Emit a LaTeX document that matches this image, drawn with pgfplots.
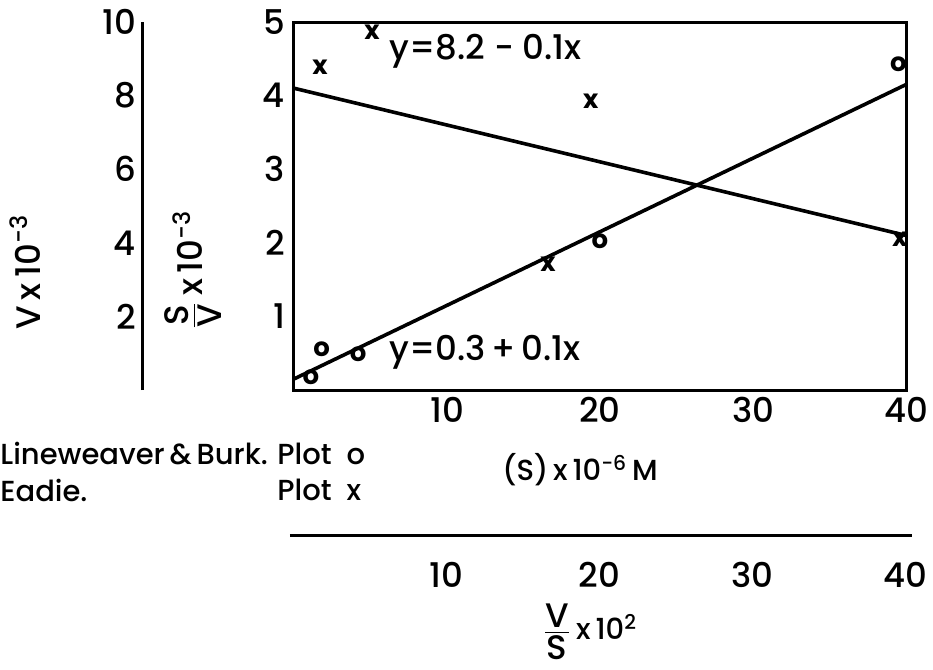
\documentclass[border=0pt]{standalone}
\usepackage{fontspec}
\setmainfont{Poppins}[UprightFont=* Medium, BoldFont=* Bold]
\usepackage{pgfplots}
\pgfplotsset{compat=1.18}

% Lineweaver-Burk data: (S) x 10^-6 M  vs  S/V x 10^-3
\pgfplotstableread{
x    y
1.1  0.18
1.8  0.55
4.2  0.49
20.0 2.02
39.5 4.42
}\lbdata
% Eadie data: V/S x 10^2  vs  V x 10^-3
\pgfplotstableread{
x    y
1.7  8.78
5.1  9.72
19.4 7.86
16.6 3.42
39.6 4.10
}\eadiedata

\newcommand{\tickfont}{\fontsize{17}{17}\selectfont}
\newcommand{\labfont}{\fontsize{14.5}{14.5}\selectfont}
\newcommand{\ttlfont}{\fontsize{17}{17}\selectfont}
% stacked quotient used in the axis titles
\newcommand{\quot}[2]{$\frac{\mbox{\ttlfont #1}\rule[-2pt]{0pt}{2pt}}{\mbox{\ttlfont #2}\rule{0pt}{13pt}}$}

\begin{document}
\begin{tikzpicture}
\useasboundingbox (-147pt,-140pt) rectangle (319.5pt,195pt);

% main frame: S/V against (S)
\begin{axis}[
  at={(0pt,0pt)}, anchor=south west,
  scale only axis, width=306pt, height=184pt,
  xmin=0, xmax=40, ymin=0, ymax=5,
  xtick={10,20,30,40}, ytick={1,2,3,4,5},
  major tick length=0pt,
  axis line style={line width=1.5pt},
  tick label style={font=\tickfont},
  y tick label style={xshift=-1pt},
  /pgf/number format/assume math mode=true,
  clip=false,
]
\addplot[line width=1.8pt] coordinates {(0,0.15) (40,4.15)};
\addplot[only marks, mark=text, text mark={o}, text mark as node=true,
  text mark style={font=\bfseries\fontsize{13}{13}\selectfont, inner sep=0pt}]
  table[x=x,y=y] {\lbdata};
\node[anchor=west, font=\tickfont] at (axis cs:5.8,4.6) {y=8.2 - 0.1x};
\node[anchor=west, font=\tickfont] at (axis cs:5.8,0.52) {y=0.3\,+\,0.1x};
\end{axis}

% Eadie plot drawn in the same frame: V against V/S
\begin{axis}[
  at={(0pt,0pt)}, anchor=south west,
  scale only axis, width=306pt, height=184pt,
  xmin=0, xmax=40, ymin=0, ymax=10,
  hide axis, clip=false,
]
\addplot[line width=1.8pt] coordinates {(0,8.2) (40,4.2)};
\addplot[only marks, mark=text, text mark={x}, text mark as node=true,
  text mark style={font=\bfseries\fontsize{13}{13}\selectfont, inner sep=0pt}]
  table[x=x,y=y] {\eadiedata};
\end{axis}

% separate V scale on the left
\begin{axis}[
  at={(-75.5pt,0pt)}, anchor=south west,
  scale only axis, width=10pt, height=184pt,
  xmin=0, xmax=1, ymin=0, ymax=10,
  axis x line=none, axis y line=left,
  axis line style={-, line width=1.5pt},
  ytick={2,4,6,8,10}, major tick length=0pt,
  tick label style={font=\tickfont},
  /pgf/number format/assume math mode=true,
]
\end{axis}

% separate V/S scale below
\begin{axis}[
  at={(-2pt,-72.5pt)}, anchor=south west,
  scale only axis, width=311pt, height=10pt,
  xmin=-0.26, xmax=40.45, ymin=0, ymax=1,
  axis y line=none, axis x line=bottom,
  axis line style={-, line width=1.5pt},
  xtick={10,20,30,40}, major tick length=0pt,
  x tick label style={font=\tickfont, yshift=-10pt},
  /pgf/number format/assume math mode=true,
]
\end{axis}

% axis titles
\node[rotate=90, font=\ttlfont] at (-134.5pt,59pt) {V\,x\,10\textsuperscript{-3}};
\node[rotate=90, font=\ttlfont] at (-50.5pt,60pt) {\quot{S}{V}\,x\,10\textsuperscript{-3}};
\node[font=\labfont] at (143pt,-40pt) {(S)\,x\,10\textsuperscript{-6}\,M};
\node[font=\labfont] at (148pt,-121pt) {\quot{V}{S}\,x\,10\textsuperscript{2}};

% key
\node[anchor=west, font=\labfont, inner sep=0pt] at (-147pt,-32pt) {Lineweaver\,\&\,Burk.};
\node[anchor=west, font=\labfont, inner sep=0pt] at (-8.5pt,-32pt) {Plot\ \ o};
\node[anchor=west, font=\labfont, inner sep=0pt] at (-147pt,-50pt) {Eadie.};
\node[anchor=west, font=\labfont, inner sep=0pt] at (-8.5pt,-50pt) {Plot\ \ x};
\end{tikzpicture}
\end{document}
